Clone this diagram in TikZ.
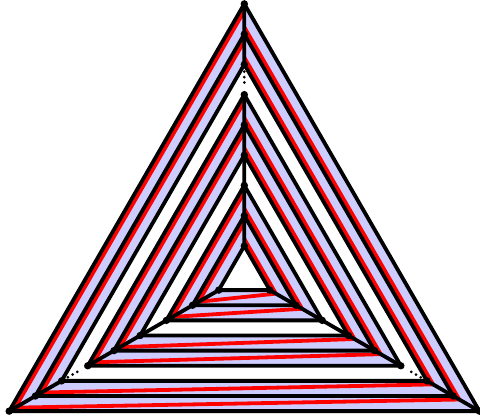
\documentclass[tikz,border=0pt]{standalone}
\usetikzlibrary{calc}
\definecolor{bandblue}{RGB}{204,204,255}
\begin{document}
\begin{tikzpicture}[x=1pt,y=1pt,
  edge/.style={line width=3.8pt},
  redline/.style={draw=red, line width=3.8pt, line join=round},
  vdot/.style={circle, fill=black, inner sep=0pt, minimum size=7.4pt},
  sdot/.style={circle, fill=black, inner sep=0pt, minimum size=3pt}]
\useasboundingbox (0,0) rectangle (480,418);
\coordinate (O) at (244.3,142.6);
\def\dd{7}
\foreach \k in {0,...,8}{
  \pgfmathsetmacro{\r}{271.5-30.25*\k}
  \pgfmathsetmacro{\ri}{\r-\dd}
  \pgfmathsetmacro{\ro}{\r+\dd}
  \coordinate (T\k) at ($(O)+(90:\r)$);
  \coordinate (L\k) at ($(O)+(210:\r)$);
  \coordinate (R\k) at ($(O)+(330:\r)$);
  \coordinate (Ti\k) at ($(O)+(90:\ri)$);
  \coordinate (Li\k) at ($(O)+(210:\ri)$);
  \coordinate (Ro\k) at ($(O)+(330:\ro)$);
  \coordinate (To\k) at ($(O)+(90:\ro)$);
}
% blue bands
\fill[bandblue] (T0)--(L0)--(R0)--cycle;
\fill[white] (T2)--(L2)--(R2)--cycle;
\fill[bandblue] (T3)--(L3)--(R3)--cycle;
\fill[white] (T5)--(L5)--(R5)--cycle;
\fill[bandblue] (T6)--(L6)--(R6)--cycle;
\fill[white] (T8)--(L8)--(R8)--cycle;
% red spiral
\foreach \k/\kk in {0/1,1/2,3/4,4/5,6/7,7/8}{
  \draw[redline] (Ti\k) -- (Li\k) -- (Ro\kk) -- (To\kk);
}
% black triangles
\foreach \k in {0,...,8}{
  \draw[edge] (T\k)--(L\k)--(R\k)--cycle;
}
% spokes
\foreach \k/\kk in {0/1,1/2,3/4,4/5,5/6,6/7,7/8}{
  \draw[edge] (T\k)--(T\kk) (L\k)--(L\kk) (R\k)--(R\kk);
}
% ellipsis dots
\foreach \f/\n in {0.24/a,0.42/b,0.60/c}{
  \node[sdot] (eT\n) at ($(T2)!\f!(T3)$) {};
  \node[sdot] (eL\n) at ($(L2)!\f!(L3)$) {};
  \node[sdot] (eR\n) at ($(R2)!\f!(R3)$) {};
}
% vertex dots
\foreach \k in {0,...,8}{
  \node[vdot] (dT\k) at (T\k) {};
  \node[vdot] (dL\k) at (L\k) {};
  \node[vdot] (dR\k) at (R\k) {};
}
\end{tikzpicture}
\end{document}
